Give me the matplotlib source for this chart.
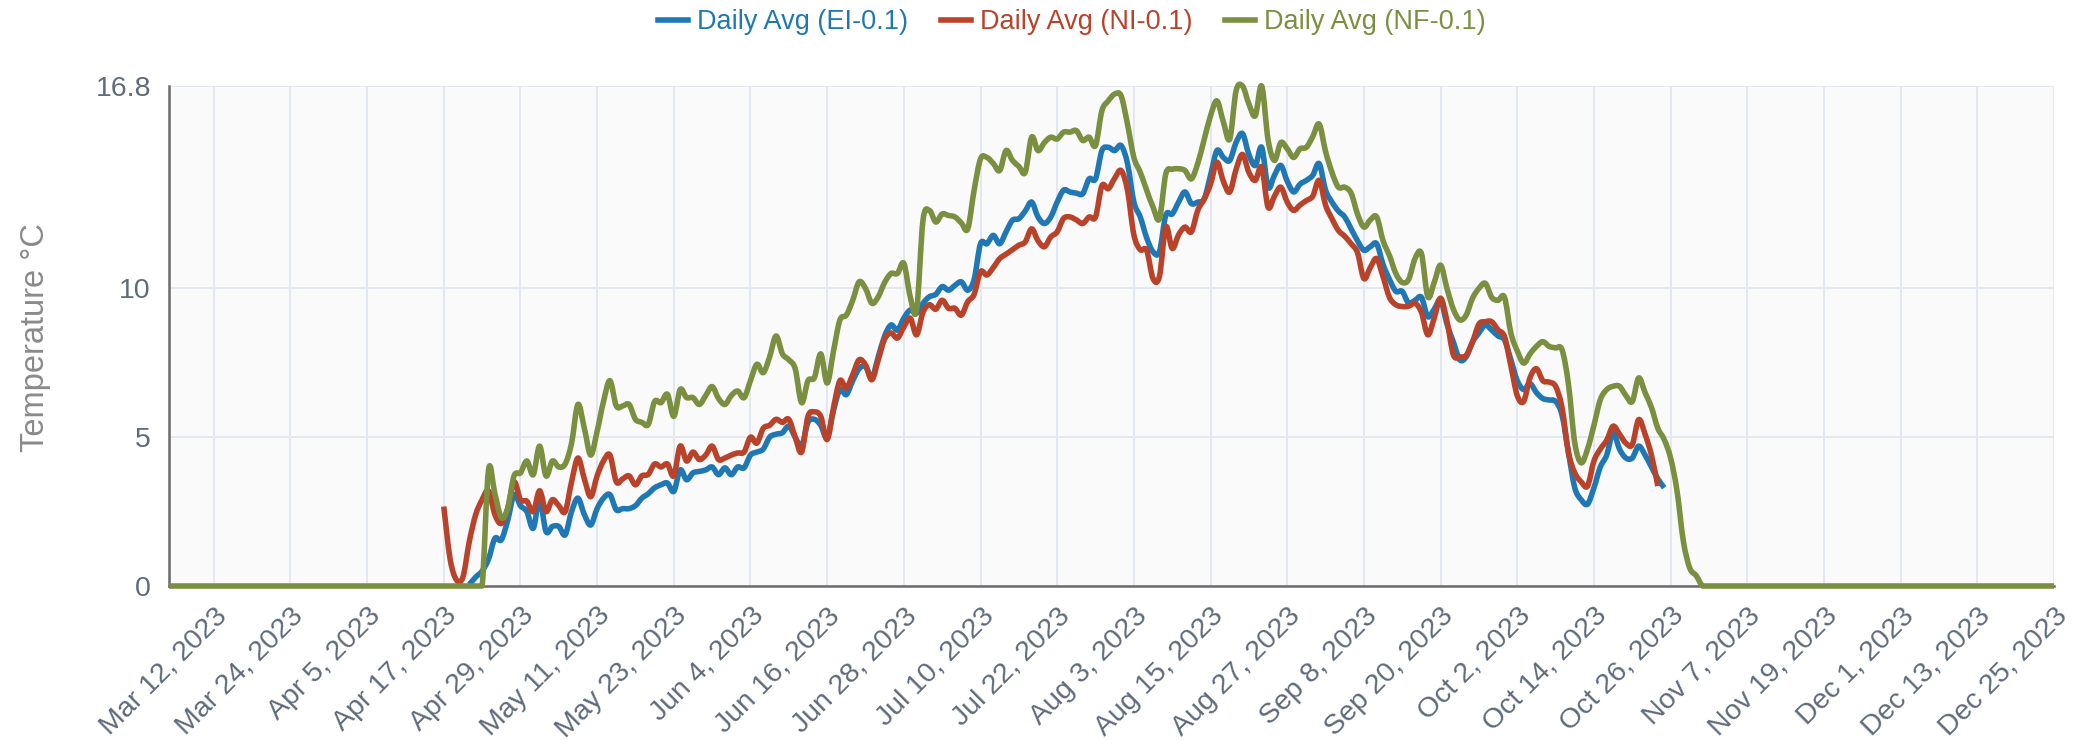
import matplotlib
matplotlib.use("Agg")
import matplotlib.pyplot as plt
import matplotlib.dates as mdates
from matplotlib.path import Path
from matplotlib.patches import PathPatch
from matplotlib.lines import Line2D
import numpy as np
import pandas as pd

plt.rcParams['font.family'] = ['Liberation Sans', 'DejaVu Sans']

# daily averages
ei_start = "2023-04-21"
ei_values = [
    0.05, 0.3, 0.5, 0.9, 1.6, 1.55,
    2.2, 3.07, 2.7, 2.5, 1.94, 2.9, 1.83, 2.0, 2.0, 1.72,
    2.5, 2.95, 2.4, 2.05, 2.6, 2.95, 3.07, 2.56, 2.6, 2.6,
    2.7, 2.95, 3.1, 3.3, 3.4, 3.46, 3.18, 3.9, 3.57, 3.8,
    3.85, 3.9, 4.0, 3.74, 3.97, 3.74, 4.0, 3.97, 4.4, 4.5,
    4.6, 5.0, 5.1, 5.15, 5.37, 5.0, 4.7, 5.5, 5.6, 5.4,
    4.98, 5.9, 6.6, 6.43, 6.9, 7.3, 7.38, 7.0, 7.7, 8.4,
    8.77, 8.6, 9.0, 9.27, 9.16, 9.5, 9.72, 9.8, 10.06, 9.94,
    10.1, 10.22, 9.94, 10.3, 11.5, 11.5, 11.78, 11.5, 11.9, 12.29,
    12.34, 12.6, 12.9, 12.4, 12.18, 12.4, 12.9, 13.3, 13.24, 13.2,
    13.18, 13.68, 13.68, 14.63, 14.74, 14.63, 14.8, 14.2, 12.9, 12.4,
    11.7, 11.23, 11.23, 12.46, 12.5, 12.9, 13.24, 12.85, 12.9, 13.0,
    13.8, 14.63, 14.4, 14.3, 14.9, 15.2, 14.5, 14.13, 14.74, 13.4,
    13.8, 14.13, 13.6, 13.24, 13.5, 13.63, 13.8, 14.19, 13.3, 12.9,
    12.6, 12.4, 12.0, 11.6, 11.28, 11.4, 11.5, 10.8, 10.3, 9.9,
    9.9, 9.5, 9.6, 9.7, 9.05, 9.3, 9.6, 8.8, 8.2, 7.6,
    7.7, 8.2, 8.5, 8.77, 8.6, 8.4, 8.27, 7.6, 6.9, 6.6,
    6.8, 6.5, 6.3, 6.25, 6.2, 5.75, 4.5, 3.3, 2.9, 2.75,
    3.3, 4.0, 4.4, 5.15, 4.6, 4.3, 4.3, 4.7, 4.4, 4.0, 3.6, 3.3,
]

ni_start = "2023-04-17"
ni_values = [
    2.67, 0.9, 0.2, 0.3, 1.5, 2.4, 2.9, 3.2, 2.4, 2.1,
    2.6, 3.5, 2.9, 2.85, 2.5, 3.2, 2.5, 2.9, 2.7, 2.5,
    3.5, 4.3, 3.6, 3.0, 3.7, 4.2, 4.4, 3.5, 3.6, 3.7,
    3.4, 3.7, 3.75, 4.1, 4.0, 4.1, 3.7, 4.7, 4.2, 4.5,
    4.25, 4.4, 4.7, 4.25, 4.3, 4.4, 4.47, 4.5, 5.0, 4.8,
    5.3, 5.4, 5.6, 5.5, 5.6, 5.0, 4.5, 5.7, 5.85, 5.7,
    4.92, 6.0, 6.9, 6.65, 7.1, 7.6, 7.43, 6.93, 7.6, 8.3,
    8.5, 8.33, 8.7, 9.0, 8.44, 9.2, 9.45, 9.3, 9.6, 9.33,
    9.33, 9.1, 9.55, 9.8, 10.56, 10.45, 10.7, 11.0, 11.15, 11.3,
    11.45, 11.56, 12.0, 11.6, 11.4, 11.73, 11.9, 12.35, 12.4, 12.3,
    12.18, 12.4, 12.4, 13.45, 13.35, 13.7, 13.96, 13.3, 11.8, 11.3,
    11.28, 10.33, 10.4, 12.06, 11.34, 11.8, 12.06, 11.9, 12.62, 13.0,
    13.5, 14.24, 13.6, 13.24, 14.0, 14.5, 13.9, 13.63, 14.07, 12.73,
    13.1, 13.4, 12.9, 12.62, 12.8, 12.95, 13.1, 13.63, 12.8, 12.34,
    11.95, 11.75, 11.5, 11.2, 10.33, 10.7, 11.0, 10.39, 9.7, 9.45,
    9.39, 9.4, 9.5, 9.2, 8.44, 9.0, 9.67, 8.9, 7.77, 7.7,
    7.75, 8.2, 8.8, 8.88, 8.88, 8.6, 8.38, 7.4, 6.4, 6.2,
    7.0, 7.3, 6.9, 6.85, 6.71, 6.0, 4.5, 3.8, 3.5, 3.36,
    4.2, 4.6, 4.9, 5.37, 5.1, 4.8, 4.75, 5.59, 5.1, 4.4, 3.36,
]

nf_start = "2023-03-05"
nf_values = [0.0] * 50 + [
    3.9, 3.1, 2.3,
    2.6, 3.7, 3.8, 4.2, 3.74, 4.7, 3.7, 4.2, 4.0, 4.1,
    4.8, 6.1, 5.3, 4.4, 5.2, 6.2, 6.9, 6.05, 6.05, 6.1,
    5.6, 5.5, 5.43, 6.2, 6.16, 6.44, 5.7, 6.6, 6.33, 6.33,
    6.1, 6.4, 6.7, 6.3, 6.1, 6.4, 6.55, 6.33, 6.9, 7.45,
    7.17, 7.7, 8.4, 7.8, 7.6, 7.3, 6.16, 6.9, 7.0, 7.8,
    6.82, 7.9, 8.94, 9.1, 9.6, 10.22, 10.0, 9.5, 9.72, 10.2,
    10.5, 10.5, 10.84, 9.72, 9.27, 12.29, 12.62, 12.23, 12.5, 12.45,
    12.4, 12.2, 12.0, 13.3, 14.35, 14.4, 14.2, 13.96, 14.63, 14.3,
    14.1, 13.9, 15.08, 14.63, 14.9, 15.08, 15.02, 15.25, 15.25, 15.3,
    14.97, 15.08, 14.8, 15.97, 16.3, 16.53, 16.47, 15.52, 14.4, 13.9,
    13.3, 12.73, 12.34, 13.85, 14.0, 14.02, 13.96, 13.68, 14.2, 15.0,
    15.8, 16.3, 15.6, 15.02, 16.64, 16.8, 16.2, 15.8, 16.8, 15.0,
    14.3, 14.9, 14.69, 14.4, 14.69, 14.74, 15.1, 15.52, 14.6, 13.9,
    13.4, 13.4, 13.2, 12.5, 12.06, 12.3, 12.4, 11.6, 11.1, 10.5,
    10.2, 10.3, 11.0, 11.17, 9.72, 10.2, 10.78, 10.0, 9.3, 8.94,
    9.1, 9.67, 10.0, 10.17, 9.7, 9.6, 9.7, 8.5, 7.9, 7.49,
    7.8, 8.05, 8.21, 8.05, 8.0, 7.94, 6.8, 4.81, 4.14, 4.6,
    5.4, 6.26, 6.6, 6.71, 6.71, 6.4, 6.2, 6.99, 6.5, 6.0,
    5.3, 4.92, 4.3, 3.2, 1.5, 0.6, 0.35,
] + [0.0] * 56

series = [
    ("Daily Avg (EI-0.1)", ei_start, ei_values, "#1f78b4"),
    ("Daily Avg (NI-0.1)", ni_start, ni_values, "#b9432a"),
    ("Daily Avg (NF-0.1)", nf_start, nf_values, "#7a8f3f"),
]

y_ticks = [0, 5, 10, 16.8]
y_tick_labels = ["0", "5", "10", "16.8"]
tick_start, tick_end = "2023-03-12", "2023-12-25"


def spline_path(x, y):
    # cubic bezier through every point (Catmull-Rom style), like a spline line shape
    p = np.column_stack([x, y])
    ext = np.vstack([p[0], p, p[-1]])
    verts, codes = [p[0]], [Path.MOVETO]
    for i in range(len(p) - 1):
        p0, p1, p2, p3 = ext[i], ext[i + 1], ext[i + 2], ext[i + 3]
        c1 = p1 + (p2 - p0) / 6
        c2 = p2 - (p3 - p1) / 6
        c1[1] = max(c1[1], 0.0)  # no dip under the zero line
        c2[1] = max(c2[1], 0.0)
        verts += [c1, c2, p2]
        codes += [Path.CURVE4] * 3
    return Path(verts, codes)


fig = plt.figure(figsize=(20.75, 7.4), dpi=100)
ax = fig.add_axes([169 / 2075, 1 - 586 / 740, (2054 - 169) / 2075, (586 - 86) / 740])
ax.set_facecolor("#fafafa")

handles = []
for name, start, vals, color in series:
    dates = pd.date_range(start, periods=len(vals), freq="D")
    path = spline_path(mdates.date2num(dates), np.asarray(vals, float))
    ax.add_patch(PathPatch(path, fill=False, edgecolor=color, lw=4.0, clip_on=False,
                           joinstyle="round", capstyle="butt", zorder=3))
    handles.append(Line2D([], [], color=color, lw=4.0, label=name))

nf_dates = pd.date_range(nf_start, periods=len(nf_values), freq="D")
ax.set_xlim(nf_dates[0], nf_dates[-1])
ax.set_ylim(0, 16.8)

xt = pd.date_range(tick_start, tick_end, freq="12D")
ax.set_xticks(xt)
ax.set_xticklabels([d.strftime("%b %-d, %Y") for d in xt], rotation=45,
                   ha="right", va="top", rotation_mode="anchor")
ax.set_yticks(y_ticks)
ax.set_yticklabels(y_tick_labels)
ax.tick_params(axis="both", length=0, labelsize=20.5, colors="#5f6b7a")
ax.tick_params(axis="x", pad=12)
ax.tick_params(axis="y", pad=13)

ax.grid(True, color="#e3e8f0", lw=1.4, zorder=0)
ax.set_axisbelow(True)
for s in ["top", "right"]:
    ax.spines[s].set_visible(False)
for s in ["left", "bottom"]:
    ax.spines[s].set_color("#6a6a6a")
    ax.spines[s].set_linewidth(1.8)
ax.axhline(16.8, color="#e3e8f0", lw=1.4, zorder=0)

fig.text(36 / 2075, 1 - 337 / 740, "Temperature °C", rotation=90, ha="center",
         va="center", fontsize=23.5, color="#8a8a8a")

leg = fig.legend(handles=handles, loc="center", bbox_to_anchor=(1072 / 2075, 1 - 22 / 740),
                 ncol=3, frameon=False, fontsize=19.5, handlelength=1.1,
                 handletextpad=0.35, columnspacing=1.2, labelcolor="linecolor")

fig.savefig("out.png", dpi=100, facecolor="white")
